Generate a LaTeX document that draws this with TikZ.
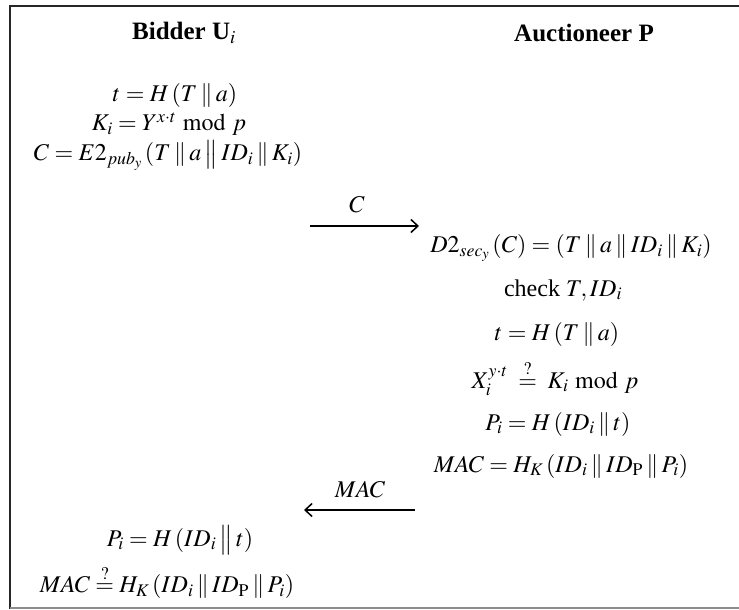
\documentclass[tikz,border=0pt]{standalone}
\usepackage{mathptmx}
\usepackage[no-math]{fontspec}
\setmainfont{Liberation Serif}
\usetikzlibrary{arrows.meta}
\newcommand{\cc}{\mathbin{\|}}
\newcommand{\bcc}{\mathbin{\big\|}}
\begin{document}
\begin{tikzpicture}[x=1pt,y=-1pt,
  eq/.style={inner sep=0pt,font=\fontsize{24}{26}\selectfont},
  head/.style={inner sep=0pt,font=\fontsize{25}{27}\selectfont\bfseries},
  lbl/.style={inner sep=0pt,font=\fontsize{24}{26}\selectfont},
  msg/.style={line width=1.6pt,-{Straight Barb[length=7pt,width=13pt,line width=1.5pt]}}]
\useasboundingbox (0,0) rectangle (739,610);
% frame
\draw[line width=2.2pt,black!85] (10,609) -- (10,6) -- (745,6);
\draw[line width=1.6pt,black!45] (10,608) -- (745,608);
% headings
\node[head] (hb) at (184,33) {Bidder U$_{\mathit{i}}$};
\node[head] (ha) at (584,33) {Auctioneer P};
% bidder, first part
\node[eq] (l1) at (175,95) {$t = H\,(T \cc a)$};
\node[eq] (l2) at (169,124) {$K_i = Y^{x\cdot t} \bmod p$};
\node[eq] (l3) at (168,155) {$C = E2_{pub_y}\,(T \cc a \bcc ID_i \cc K_i)$};
% message C
\coordinate (cs) at (310,226);
\coordinate (ce) at (419,226);
\draw[msg] (cs) -- (ce);
\node[lbl] (lc) at (357,205) {$C$};
% auctioneer
\node[eq] (r1) at (571,248) {$D2_{sec_y}\,(C) = (T \cc a \cc ID_i \cc K_i)$};
\node[eq] (r2) at (563,290) {check $T, ID_i$};
\node[eq] (r3) at (557,334) {$t = H\,(T \cc a)$};
\node[eq] (r4) at (555,378) {$X_i^{y\cdot t} \;\stackrel{?}{=}\; K_i \bmod p$};
\node[eq] (r5) at (558,424) {$P_i = H\,(ID_i \cc t)$};
\node[eq] (r6) at (561,466) {$MAC = H_K\,(ID_i \cc ID_{\mathrm{P}} \cc P_i)$};
% message MAC
\coordinate (ms) at (415,510);
\coordinate (me) at (304,510);
\draw[msg] (ms) -- (me);
\node[lbl] (lm) at (360,490) {$MAC$};
% bidder, second part
\node[eq] (l4) at (180,540) {$P_i = H\,(ID_i \bcc t)$};
\node[eq] (l5) at (167,582) {$MAC \stackrel{?}{=} H_K\,(ID_i \cc ID_{\mathrm{P}} \cc P_i)$};
\end{tikzpicture}
\end{document}
